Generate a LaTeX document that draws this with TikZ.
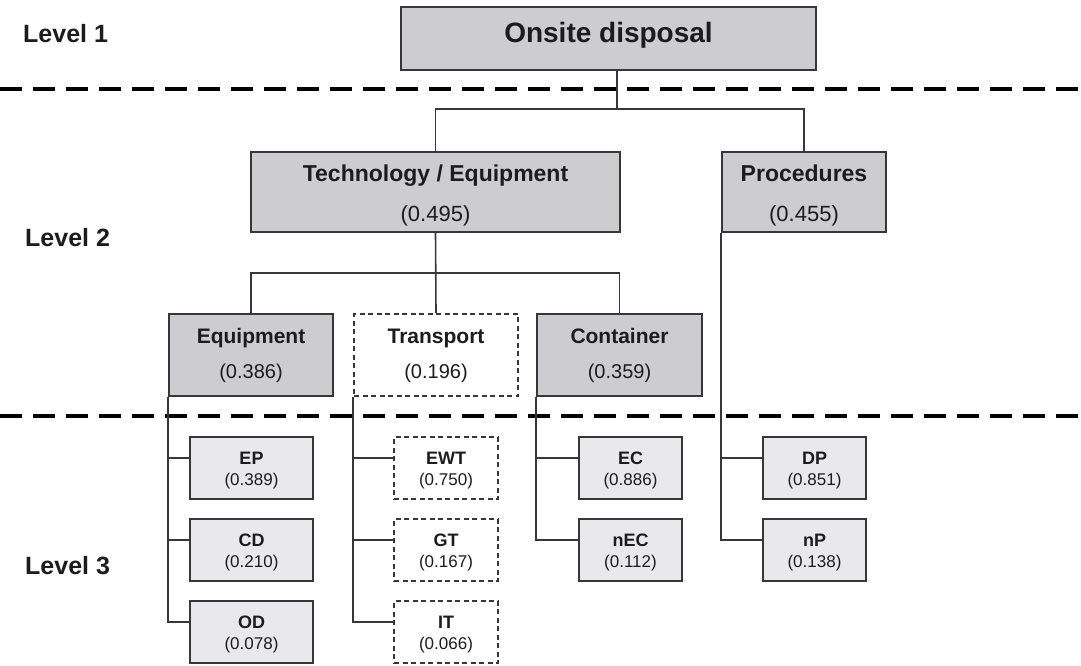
\documentclass[tikz,border=0pt]{standalone}
\usepackage{fontspec}
\setmainfont{Liberation Sans}
\definecolor{fillA}{RGB}{205,205,208}
\definecolor{fillB}{RGB}{233,233,235}
\definecolor{edge}{RGB}{55,55,55}
\definecolor{ink}{RGB}{28,28,28}
\newcommand\fs[1]{\fontsize{#1}{#1}\selectfont}
\tikzset{
  box/.style={draw=edge, line width=1.6pt, rectangle, inner sep=0pt},
  boxA/.style={box, fill=fillA},
  boxB/.style={box, fill=fillB},
  boxD/.style={box, fill=white, dash pattern=on 5pt off 3.5pt},
  conn/.style={draw=edge, line width=1.6pt},
  sep/.style={draw=black, line width=4pt, dash pattern=on 22pt off 11pt},
  txt/.style={anchor=base, inner sep=0pt, text=ink},
  lvl/.style={anchor=base west, inner sep=0pt, text=ink, font=\fs{25}\bfseries},
}
\begin{document}
\begin{tikzpicture}[x=1pt, y=-1pt]
\useasboundingbox (0,0) rectangle (1081,665);
% separators
\draw[sep] (0,89) -- (1081,89);
\draw[sep] (0,416) -- (1081,416);
% level labels
\node[lvl] (l1) at (23,42) {Level 1};
\node[lvl] (l2) at (25,246) {Level 2};
\node[lvl] (l3) at (25,574) {Level 3};
% level 1
\node[boxA, minimum width=415pt, minimum height=63pt] (onsite) at (608.5,38.5) {};
\node[txt, font=\fs{28}\bfseries] (onsiteT) at (608.5,42) {Onsite disposal};
% level 2
\node[boxA, minimum width=369pt, minimum height=80pt] (tech) at (435.5,192) {};
\node[txt, font=\fs{23}\bfseries] (techT) at (435.5,181.7) {Technology / Equipment};
\node[txt, font=\fs{22}] (techV) at (435.5,221.9) {(0.495)};
\node[boxA, minimum width=164pt, minimum height=80pt] (proc) at (804,192) {};
\node[txt, font=\fs{23}\bfseries] (procT) at (804,181.7) {Procedures};
\node[txt, font=\fs{22}] (procV) at (804,221.9) {(0.455)};
% level 2 children
\node[boxA, minimum width=164pt, minimum height=82pt] (equip) at (251,355) {};
\node[txt, font=\fs{21}\bfseries] (equipT) at (251,343.5) {Equipment};
\node[txt, font=\fs{20}] (equipV) at (251,378.2) {(0.386)};
\node[boxD, minimum width=164pt, minimum height=82pt] (trans) at (436,355) {};
\node[txt, font=\fs{21}\bfseries] (transT) at (436,343.5) {Transport};
\node[txt, font=\fs{20}] (transV) at (436,378.2) {(0.196)};
\node[boxA, minimum width=165pt, minimum height=82pt] (cont) at (619.5,355) {};
\node[txt, font=\fs{21}\bfseries] (contT) at (619.5,343.5) {Container};
\node[txt, font=\fs{20}] (contV) at (619.5,378.2) {(0.359)};
% level 3 boxes
\foreach \nm/\st/\cx/\w/\row/\t/\v in {
  ep/boxB/251.5/123/0/EP/0.389, cd/boxB/251.5/123/1/CD/0.210, od/boxB/251.5/123/2/OD/0.078,
  ewt/boxD/446/104/0/EWT/0.750, gt/boxD/446/104/1/GT/0.167, it/boxD/446/104/2/IT/0.066,
  ec/boxB/630.5/103/0/EC/0.886, nec/boxB/630.5/103/1/nEC/0.112,
  dp/boxB/814.5/103/0/DP/0.851, np/boxB/814.5/103/1/nP/0.138}{
  \pgfmathsetmacro\cy{468+82*\row}
  \node[\st, minimum width=\w pt, minimum height=62pt] (\nm) at (\cx,\cy) {};
  \node[txt, font=\fs{18}\bfseries] (\nm T) at (\cx,\cy-3.1) {\t};
  \node[txt, font=\fs{17}] (\nm V) at (\cx,\cy+17.6) {(\v)};
  \coordinate (\nm c) at ([yshift=10pt]\nm.west);
}
% connectors level 1 -> 2
\coordinate (j1) at (617,109);
\draw[conn] (onsite.south -| j1) -- (j1);
\draw[conn] (tech.north) |- (j1) -| (proc.north);
% connectors tech -> children
\coordinate (j2) at (435.5,273);
\draw[conn] (tech.south) -- (trans.north);
\draw[conn] (equip.north) |- (j2) -| (cont.north);
% equipment children
\draw[conn] (equip.south west) |- (odc);
\draw[conn] (epc) -- (epc -| equip.west);
\draw[conn] (cdc) -- (cdc -| equip.west);
% transport children
\draw[conn] (trans.south west) |- (itc);
\draw[conn] (ewtc) -- (ewtc -| trans.west);
\draw[conn] (gtc) -- (gtc -| trans.west);
% container children
\draw[conn] (cont.south west) |- (necc);
\draw[conn] (ecc) -- (ecc -| cont.west);
% procedures children
\draw[conn] (proc.south west) |- (npc);
\draw[conn] (dpc) -- (dpc -| proc.west);
\end{tikzpicture}
\end{document}
